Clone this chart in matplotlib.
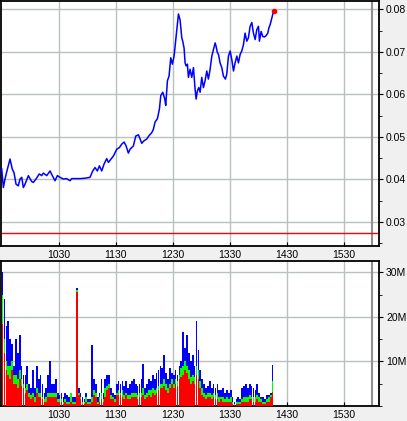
import matplotlib
matplotlib.use("Agg")
import matplotlib.pyplot as plt
from matplotlib.ticker import FixedLocator, MultipleLocator, FuncFormatter

# ---- price data (minutes after 09:30, price) ----
price_min = [0, 1.8, 3.5, 6.0, 8.8, 11.2, 13.0, 15.1, 17.5, 19.3, 21.1, 22.8, 24.6, 28.1, 29.8,
             31.6, 33.3, 36.1, 39.6, 42.1, 43.9, 47.4, 50.9, 53.3, 56.1, 58.6, 61.4, 64.9, 68.4,
             71.9, 73.7, 77.2, 82.5, 87.7, 93.0, 95.8, 98.2, 100.7, 102.8, 105.3, 107.7, 110.5,
             112.3, 115.1, 117.5, 119.3, 121.1, 123.9, 126.3, 128.8, 130.9, 133.3, 135.1, 138.6,
             141.1, 143.9, 147.4, 149.8, 152.6, 155.4, 157.9, 159.6, 161.4, 163.9, 166.0, 167.4,
             169.5, 171.6, 172.6, 174.4, 176.1, 177.9, 179.6, 181.4, 183.2, 184.9, 186.0, 187.7,
             189.5, 190.5, 191.9, 193.0, 194.0, 195.4, 196.5, 198.2, 200.0, 201.8, 203.5, 204.6,
             206.0, 207.4, 208.8, 210.5, 212.3, 214.0, 215.8, 217.5, 219.3, 221.1, 222.8, 224.6,
             225.6, 227.0, 228.1, 229.8, 231.6, 233.3, 235.4, 236.8, 238.6, 240.4, 242.1, 243.9,
             245.6, 247.4, 249.1, 250.9, 252.6, 254.4, 256.1, 257.9, 259.6, 261.4, 263.2, 264.9,
             266.7, 268.4, 270.2, 271.2, 273.0, 274.7, 276.5, 278.2, 280.0, 281.1, 282.5, 284.2,
             286.0, 286.7]
price = [0.0425, 0.0381, 0.0401, 0.0424, 0.0448, 0.0424, 0.0416, 0.0389, 0.0385, 0.0401, 0.0405,
         0.0381, 0.0389, 0.0409, 0.0402, 0.0395, 0.0393, 0.0401, 0.0413, 0.0409, 0.0415, 0.0409,
         0.0420, 0.0409, 0.0397, 0.0409, 0.0405, 0.0401, 0.0402, 0.0397, 0.0402, 0.0402, 0.0402,
         0.0403, 0.0405, 0.0420, 0.0428, 0.0420, 0.0432, 0.0420, 0.0436, 0.0449, 0.0440, 0.0448,
         0.0455, 0.0463, 0.0471, 0.0475, 0.0483, 0.0488, 0.0479, 0.0462, 0.0471, 0.0479, 0.0502,
         0.0505, 0.0485, 0.0491, 0.0495, 0.0504, 0.0510, 0.0518, 0.0535, 0.0543, 0.0566, 0.0597,
         0.0605, 0.0589, 0.0574, 0.0632, 0.0643, 0.0686, 0.0671, 0.0690, 0.0729, 0.0764, 0.0789,
         0.0775, 0.0733, 0.0725, 0.0709, 0.0674, 0.0667, 0.0671, 0.0640, 0.0659, 0.0640, 0.0663,
         0.0612, 0.0589, 0.0609, 0.0616, 0.0605, 0.0640, 0.0616, 0.0632, 0.0655, 0.0636, 0.0659,
         0.0690, 0.0705, 0.0721, 0.0713, 0.0698, 0.0694, 0.0674, 0.0663, 0.0643, 0.0636, 0.0647,
         0.0690, 0.0702, 0.0682, 0.0655, 0.0674, 0.0690, 0.0674, 0.0694, 0.0702, 0.0717, 0.0744,
         0.0725, 0.0733, 0.0760, 0.0769, 0.0744, 0.0729, 0.0752, 0.0760, 0.0725, 0.0748, 0.0736,
         0.0735, 0.0738, 0.0744, 0.0756, 0.0764, 0.0779, 0.0795, 0.0797]
prev_close = 0.02734

# ---- volume data (2-minute bins, millions): cumulative tops of each coloured layer ----
vol_start = list(range(0, 286, 2))
vol_total = [30, 24, 18, 19, 15, 14, 9, 15, 12, 16,
             9, 7, 7, 9, 5, 4, 8, 4, 9, 6,
             7, 5, 3, 4, 7, 10, 5, 5, 6, 3,
             2.5, 3, 2, 3, 2.5, 2, 3, 2, 2, 26.5,
             4, 3, 2, 1.5, 3, 1.5, 1.5, 13.8, 6, 5,
             2, 3, 6, 3, 6, 7, 7, 4, 3, 2.5,
             5, 5.5, 5, 5.5, 4.5, 5.5, 4, 5, 5.5, 6,
             5, 4.5, 5, 6, 9.5, 4, 5, 6, 5.5, 7,
             6, 7.5, 8, 9, 8.5, 11.5, 7.5, 6, 8.5, 7.5,
             7, 8, 7, 9, 10, 16.5, 13, 16, 12, 10,
             11.5, 9, 19, 12.5, 8, 6, 5, 4, 4.5, 5.5,
             4, 5, 4, 5, 3.5, 3.5, 4, 3, 3.5, 3,
             3.5, 2, 1, 1.5, 2, 1.5, 4, 4.5, 5, 4,
             5, 4.5, 4, 3.5, 5, 3, 2, 2, 1.5, 2.5,
             2.5, 3, 9.3]
vol_green = [25, 15, 10, 9, 9, 10, 7, 7, 6, 8,
             6, 5, 4, 5, 3, 2.5, 3, 2, 4, 3,
             3, 2, 1.5, 2, 3, 3, 3, 3, 3, 1.5,
             1.5, 1.5, 1, 1.5, 1, 1, 3, 1, 1, 26,
             3, 2, 1, 1, 2, 1, 0.8, 2, 3.5, 3,
             1, 2, 3, 1.5, 4, 4.5, 5, 2.5, 2, 1.5,
             3, 3.5, 3, 3.5, 2.5, 3, 2.5, 2.5, 3, 3,
             3, 2.5, 3, 3, 4, 2.5, 3, 3.5, 3.5, 4,
             3.5, 4, 4.5, 5, 5, 6, 5, 4, 5, 6,
             5, 6, 5.5, 7, 8.5, 9, 10, 9, 8, 6.5,
             7, 6.5, 9, 8, 5.5, 4, 3, 2.5, 3, 3,
             2.5, 3, 2.5, 3, 2, 2, 2, 1.5, 2, 1.5,
             2, 1, 0.5, 1, 1, 1, 1.5, 2, 2, 2,
             2.5, 2, 2, 2, 2.5, 2, 1.5, 1, 1, 1.5,
             2, 2.5, 5.5]
vol_red = [18.5, 12, 8, 7, 6, 8, 5, 5, 4, 6,
           4.5, 4, 3, 3.5, 2, 1.5, 2, 1, 3, 2,
           2, 1.5, 1, 1, 2, 2, 2, 2, 2, 1,
           1, 1, 0.5, 1, 0.5, 0.5, 1, 0.5, 0.5, 25.5,
           2.5, 1.5, 0.5, 0.5, 1, 0.5, 0.4, 1, 2.5, 2,
           0.5, 1, 1.5, 1, 2, 3.5, 4, 1.5, 1.5, 1,
           2.5, 2.5, 2.5, 2, 1.5, 2.5, 1.5, 1.5, 2, 2,
           2, 1.5, 2, 2, 2.5, 1.5, 2, 2.5, 2, 3,
           2.5, 3, 3.5, 4, 4, 4.5, 3.5, 3, 4, 5,
           4, 5, 4.5, 6, 6.5, 7, 8, 7.5, 6, 5,
           5.5, 5, 7, 6, 4, 2.5, 2, 1.5, 2, 2,
           1.5, 2, 1.5, 1.5, 1, 1.5, 1, 1, 1, 1,
           1, 0.5, 0.3, 0.5, 0.5, 0.5, 1, 1, 1, 1,
           1.5, 1.5, 1, 1, 1.5, 1, 0.8, 0.5, 0.5, 1,
           1, 2, 3.2]

tick_pos = [60, 120, 180, 240, 300, 360]
tick_labels = ["1030", "1130", "1230", "1330", "1430", "1530"]
session_end = 390

plt.rcParams['font.family'] = ['Liberation Sans', 'DejaVu Sans']
W, H = 407, 421
fig = plt.figure(figsize=(W / 100, H / 100), dpi=100, facecolor='#f0f0f0')

def fx(px):
    return px / W

def fy(py):
    return 1 - py / H

ax1 = fig.add_axes([fx(1), fy(246), fx(379) - fx(1), fy(1) - fy(246)])
ax2 = fig.add_axes([fx(1), fy(406), fx(379) - fx(1), fy(261) - fy(406)])

grid_col = '#b8c0c0'
for ax in (ax1, ax2):
    ax.set_facecolor('white')
    ax.set_xlim(-0.7, 397)
    ax.xaxis.set_major_locator(FixedLocator(tick_pos))
    ax.set_xticklabels(tick_labels)
    ax.grid(True, color=grid_col, linewidth=1.0)
    ax.set_axisbelow(True)
    ax.yaxis.tick_right()
    ax.tick_params(axis='y', which='both', direction='out', right=True, left=False,
                   labelsize=7.5, pad=2, colors='black')
    ax.tick_params(axis='y', which='major', length=3)
    ax.tick_params(axis='y', which='minor', length=2)
    ax.tick_params(axis='x', which='both', length=3, direction='in', labelsize=7.5, pad=3)
    for s in ax.spines.values():
        s.set_color('black')
        s.set_linewidth(1.3)
    ax.axvline(session_end, color='#909090', linewidth=1.5, zorder=1)

# price panel
ax1.set_ylim(0.02436, 0.08195)
ax1.yaxis.set_major_locator(FixedLocator([0.03, 0.04, 0.05, 0.06, 0.07, 0.08]))
ax1.yaxis.set_minor_locator(MultipleLocator(0.005))
ax1.yaxis.set_major_formatter(FuncFormatter(lambda v, p: f"{v:.2f}"))
ax1.axhline(prev_close, color='#ff0000', linewidth=1.0, zorder=2)
ax1.plot(price_min, price, color='#0000ff', linewidth=1.1, zorder=3)
ax1.plot([price_min[-1]], [price[-1]], 'o', color='#ff0000', markersize=3, zorder=4)

# volume panel
scale = 1e6
ax2.set_ylim(0, 32.54e6)
ax2.yaxis.set_major_locator(FixedLocator([10e6, 20e6, 30e6]))
ax2.yaxis.set_minor_locator(MultipleLocator(5e6))
ax2.yaxis.set_major_formatter(FuncFormatter(lambda v, p: f"{int(round(v / 1e6))}M"))
xs = [s + 1 for s in vol_start]
ax2.bar(xs, [v * scale for v in vol_total], width=1.8, color='#0000ff', linewidth=0, zorder=2)
ax2.bar(xs, [v * scale for v in vol_green], width=1.8, color='#00ff00', linewidth=0, zorder=3)
ax2.bar(xs, [v * scale for v in vol_red], width=1.8, color='#ff0000', linewidth=0, zorder=4)

fig.savefig("out.png", dpi=100, facecolor=fig.get_facecolor())
